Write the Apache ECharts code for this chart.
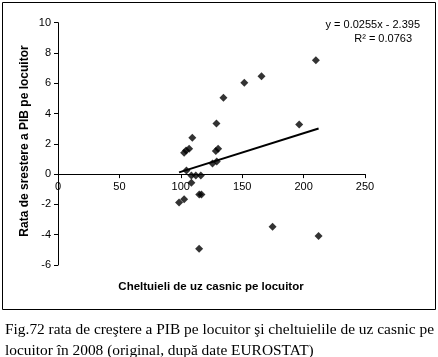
<!DOCTYPE html>
<html><head><meta charset="utf-8">
<script src="https://cdn.jsdelivr.net/npm/echarts@6/dist/echarts.min.js"></script>
<style>html,body{margin:0;padding:0;background:#fff}#c{width:438px;height:357px}</style>
</head><body><div id="c"></div>
<script>
const xValues = [98.6,102.7,108.6,108.6,112.2,116.3,115.0,116.8,114.9,104.6,102.7,104.3,106.8,109.4,125.8,129.3,128.5,130.4,129.0,134.7,151.7,165.7,210.0,196.4,174.7,212.2];
const yValues = [-1.88,-1.66,-0.57,-0.09,-0.09,-0.09,-1.35,-1.35,-4.92,0.24,1.41,1.56,1.68,2.40,0.71,0.84,1.52,1.68,3.35,5.04,6.03,6.47,7.52,3.27,-3.47,-4.09];
const slope = 0.0255, intercept = -2.395;
const eqLabel = 'y = 0.0255x - 2.395';
const r2Label = 'R\u00B2 = 0.0763';
const xTitle = 'Cheltuieli de uz casnic pe locuitor';
const yTitle = 'Rata de srestere a PIB pe locuitor';
const caption1 = 'Fig.72 rata de creştere a PIB pe locuitor şi cheltuielile de uz casnic pe';
const caption2 = 'locuitor în 2008 (original, după date EUROSTAT)';

const pts = xValues.map((x,i)=>[x,yValues[i]]);
const xmin = Math.min(...xValues), xmax = Math.max(...xValues);
const trend = [[xmin, slope*xmin+intercept],[xmax, slope*xmax+intercept]];

const chart = echarts.init(document.getElementById('c'));
const F = 'Liberation Sans, Arial, sans-serif';
const SERIF = '15.4px Liberation Serif, Times New Roman, serif';
const gridBottom = 92, H = 357;
function build(xOffset){
  return {
  animation:false,
  grid:{left:58,top:22.7,right:73,bottom:gridBottom},
  xAxis:{type:'value',min:0,max:250,interval:50,offset:xOffset,
    axisLine:{onZero:false,lineStyle:{color:'#000',width:1}},
    axisTick:{show:true,length:4,lineStyle:{color:'#000'}},
    axisLabel:{color:'#000',fontFamily:F,fontSize:11,margin:7},
    splitLine:{show:false}},
  yAxis:{type:'value',min:-6,max:10,interval:2,
    axisLine:{show:true,onZero:false,lineStyle:{color:'#000',width:1}},
    axisTick:{show:true,length:4,lineStyle:{color:'#000'}},
    axisLabel:{color:'#000',fontFamily:F,fontSize:11,margin:7},
    splitLine:{show:false}},
  series:[
    {type:'line',data:trend,symbol:'none',lineStyle:{color:'#000',width:2},z:1},
    {type:'scatter',data:pts,symbol:'diamond',symbolSize:8,itemStyle:{color:'#000'},z:2}
  ],
  graphic:[
    {type:'rect',shape:{x:2.5,y:2.5,width:433,height:307},style:{fill:null,stroke:'#000',lineWidth:1},silent:true},
    {type:'text',x:420,y:25,style:{text:eqLabel,font:'11px '+F,fill:'#000',align:'right',verticalAlign:'middle'}},
    {type:'text',x:412,y:39,style:{text:r2Label,font:'11px '+F,fill:'#000',align:'right',verticalAlign:'middle'}},
    {type:'text',x:211,y:287,style:{text:xTitle,font:'bold 11.5px '+F,fill:'#000',align:'center',verticalAlign:'middle'}},
    {type:'text',x:25,y:141,rotation:Math.PI/2,style:{text:yTitle,font:'bold 12px '+F,fill:'#000',align:'center',verticalAlign:'middle'}},
    {type:'text',x:5,y:330,style:{text:caption1,font:SERIF,fill:'#000',align:'left',verticalAlign:'middle'}},
    {type:'text',x:5,y:351,style:{text:caption2,font:SERIF,fill:'#000',align:'left',verticalAlign:'middle'}}
  ]};
}
chart.setOption(build(0));
const zeroY = chart.convertToPixel({gridIndex:0},[0,0])[1];
const bottomY = H - gridBottom;
chart.setOption(build(-(bottomY - zeroY)));
</script></body></html>
